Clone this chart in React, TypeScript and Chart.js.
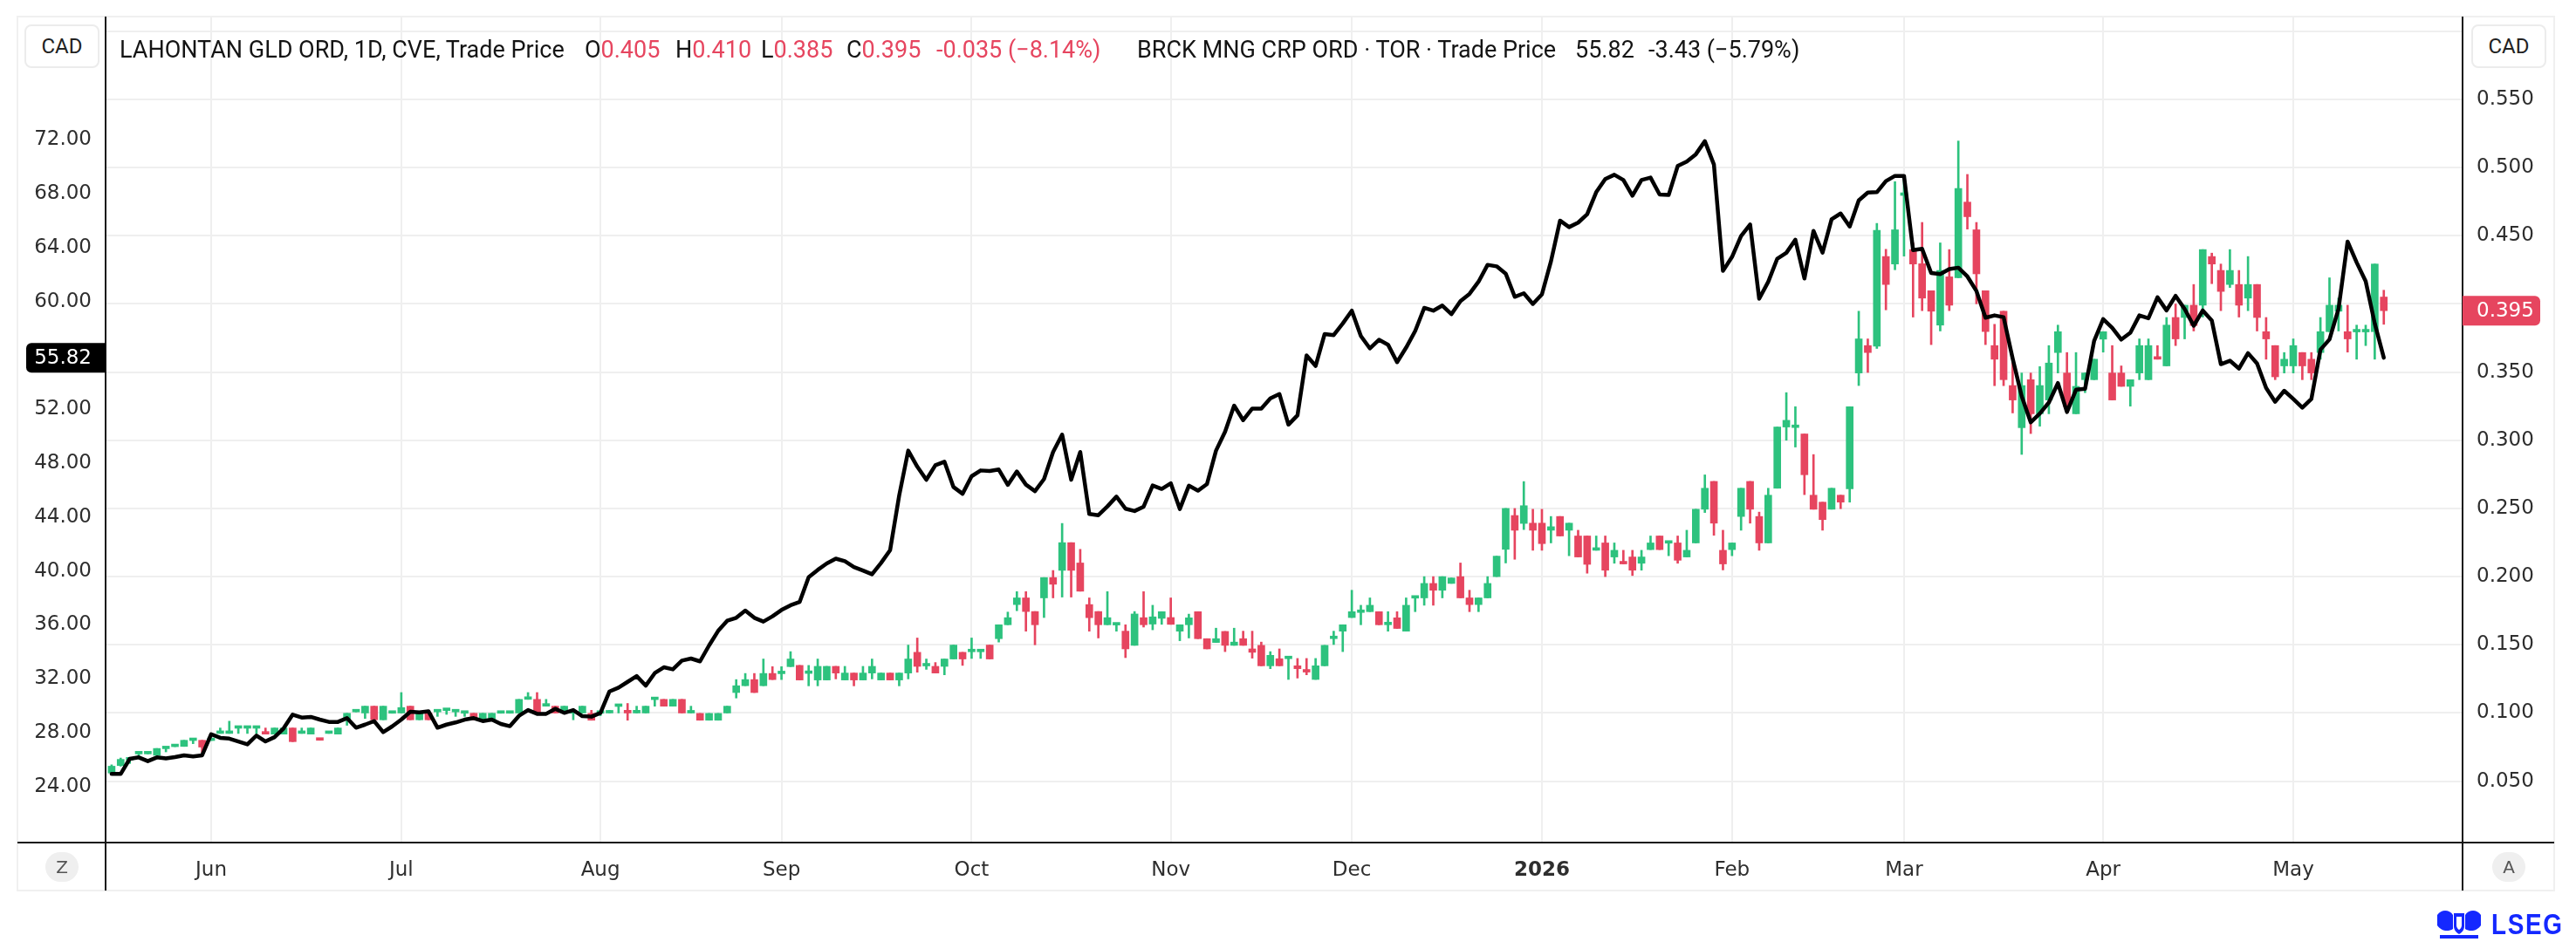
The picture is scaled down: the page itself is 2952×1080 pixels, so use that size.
import React, { useEffect, useRef } from "react";
import { Chart, registerables } from "chart.js";
Chart.register(...registerables);

// ---- x axis: trading-day index, month starts ----
const monthTickIdx = [11, 32, 54, 74, 95, 117, 137, 158, 179, 198, 220, 241];
const monthTickLabels = ["Jun", "Jul", "Aug", "Sep", "Oct", "Nov", "Dec", "2026", "Feb", "Mar", "Apr", "May"];
const boldTickLabel = "2026";
const leftTicks = [24, 28, 32, 36, 40, 44, 48, 52, 56, 60, 64, 68, 72];
const rightTicks = [0.05, 0.1, 0.15, 0.2, 0.25, 0.3, 0.35, 0.4, 0.45, 0.5, 0.55, 0.6];

// ---- LAHONTAN GLD ORD (CVE) daily candles, right axis ----
const lhnOpen = [
  0.056, 0.0615, 0.0655, 0.07, 0.07, 0.069, 0.0738, 0.0753, 0.0755, 0.0798,
  0.08, 0.0798, 0.085, 0.085, 0.0888, 0.0888, 0.0888, 0.0847, 0.0845, 0.0845,
  0.089, 0.085, 0.0845, 0.0802, 0.085, 0.0845, 0.095, 0.1008, 0.1, 0.105,
  0.095, 0.0998, 0.1, 0.105, 0.095, 0.1, 0.1008, 0.1018, 0.1008, 0.0998,
  0.0998, 0.095, 0.095, 0.0998, 0.0998, 0.1, 0.11, 0.11, 0.105, 0.105,
  0.1, 0.0998, 0.1, 0.0997, 0.0998, 0.1, 0.1048, 0.102, 0.1, 0.1,
  0.1098, 0.11, 0.105, 0.11, 0.1, 0.0997, 0.0947, 0.0947, 0.1, 0.115,
  0.12, 0.1245, 0.12, 0.129, 0.1288, 0.134, 0.1349, 0.129, 0.1242, 0.1242,
  0.1342, 0.1242, 0.1293, 0.1242, 0.1293, 0.1242, 0.1293, 0.1242, 0.1293, 0.1445,
  0.1345, 0.1342, 0.1342, 0.1396, 0.1445, 0.1449, 0.1449, 0.1498, 0.1545, 0.1647,
  0.1795, 0.1844, 0.1744, 0.1844, 0.1993, 0.2046, 0.2249, 0.21, 0.1795, 0.1744,
  0.1647, 0.1645, 0.16, 0.1496, 0.1699, 0.1652, 0.1694, 0.17, 0.16, 0.1647,
  0.1743, 0.1545, 0.1517, 0.1598, 0.1496, 0.1545, 0.147, 0.1496, 0.1346, 0.1398,
  0.1398, 0.1346, 0.1305, 0.1246, 0.1346, 0.1545, 0.16, 0.17, 0.1737, 0.1743,
  0.1743, 0.1647, 0.1698, 0.16, 0.1842, 0.1844, 0.195, 0.19, 0.195, 0.2,
  0.1844, 0.1795, 0.1844, 0.2, 0.22, 0.2448, 0.239, 0.2392, 0.2392, 0.234,
  0.2441, 0.234, 0.2298, 0.2298, 0.2193, 0.2247, 0.2144, 0.2098, 0.2144, 0.2098,
  0.2198, 0.2298, 0.2245, 0.2247, 0.2144, 0.2247, 0.2494, 0.2698, 0.2193, 0.2198,
  0.2441, 0.2698, 0.2441, 0.2247, 0.2648, 0.3097, 0.3093, 0.3046, 0.2597, 0.2546,
  0.2494, 0.2597, 0.2644, 0.3493, 0.3694, 0.369, 0.4347, 0.4292, 0.4795, 0.4398,
  0.4294, 0.4096, 0.3844, 0.4198, 0.4191, 0.4746, 0.4543, 0.4096, 0.3694, 0.3946,
  0.3401, 0.3092, 0.3444, 0.3194, 0.3295, 0.3643, 0.3493, 0.3194, 0.3444, 0.3444,
  0.3741, 0.3493, 0.3493, 0.3395, 0.3493, 0.3444, 0.3598, 0.3545, 0.39, 0.39,
  0.399, 0.399, 0.4347, 0.4245, 0.4142, 0.4142, 0.4042, 0.4142, 0.3796, 0.3694,
  0.3545, 0.3545, 0.3643, 0.3594, 0.3643, 0.3796, 0.3946, 0.3796, 0.3794, 0.3794,
  0.3796, 0.405,
];
const lhnHigh = [
  0.062, 0.067, 0.066, 0.0705, 0.0702, 0.074, 0.074, 0.0755, 0.08, 0.08,
  0.08, 0.08, 0.089, 0.094, 0.089, 0.089, 0.089, 0.089, 0.089, 0.089,
  0.089, 0.089, 0.089, 0.0802, 0.0852, 0.089, 0.0998, 0.101, 0.105, 0.105,
  0.105, 0.1, 0.115, 0.105, 0.0998, 0.1, 0.101, 0.102, 0.101, 0.1,
  0.0998, 0.0998, 0.0998, 0.1, 0.1, 0.11, 0.115, 0.115, 0.11, 0.105,
  0.105, 0.102, 0.105, 0.102, 0.1, 0.102, 0.105, 0.107, 0.105, 0.105,
  0.11, 0.11, 0.11, 0.11, 0.105, 0.0997, 0.0997, 0.0997, 0.105, 0.1245,
  0.129, 0.129, 0.1396, 0.134, 0.134, 0.145, 0.1349, 0.1349, 0.1396, 0.1342,
  0.1342, 0.1342, 0.1293, 0.1342, 0.1396, 0.1293, 0.1293, 0.1293, 0.1498, 0.155,
  0.1396, 0.137, 0.1396, 0.1498, 0.1445, 0.155, 0.145, 0.1498, 0.1647, 0.174,
  0.189, 0.189, 0.1744, 0.1993, 0.2045, 0.239, 0.2249, 0.22, 0.1844, 0.1744,
  0.189, 0.1647, 0.1647, 0.1744, 0.189, 0.179, 0.1743, 0.1844, 0.1647, 0.1725,
  0.1743, 0.1545, 0.1622, 0.1598, 0.1622, 0.16, 0.16, 0.152, 0.145, 0.147,
  0.14, 0.14, 0.14, 0.14, 0.1496, 0.16, 0.1647, 0.19, 0.179, 0.1844,
  0.1743, 0.1743, 0.1743, 0.1844, 0.1844, 0.2, 0.2, 0.2, 0.199, 0.21,
  0.19, 0.1844, 0.2, 0.215, 0.25, 0.25, 0.2697, 0.2494, 0.2494, 0.2441,
  0.2441, 0.2392, 0.234, 0.2298, 0.2298, 0.2298, 0.2247, 0.2193, 0.2193, 0.2193,
  0.2298, 0.2298, 0.2247, 0.2298, 0.234, 0.2494, 0.2746, 0.2698, 0.234, 0.2247,
  0.2648, 0.2698, 0.2473, 0.2648, 0.3097, 0.3349, 0.3246, 0.3046, 0.2895, 0.2546,
  0.2648, 0.2597, 0.3246, 0.3946, 0.3743, 0.459, 0.44, 0.4896, 0.4938, 0.4447,
  0.4597, 0.4096, 0.4447, 0.4398, 0.5194, 0.4949, 0.4597, 0.4096, 0.385, 0.3946,
  0.3594, 0.3493, 0.3493, 0.354, 0.3694, 0.3844, 0.3643, 0.3643, 0.3493, 0.3594,
  0.3796, 0.3694, 0.3545, 0.3444, 0.3743, 0.3743, 0.3694, 0.39, 0.3999, 0.399,
  0.4142, 0.4398, 0.4372, 0.4292, 0.4398, 0.4245, 0.4347, 0.4142, 0.39, 0.3694,
  0.3643, 0.3743, 0.3643, 0.3643, 0.39, 0.4191, 0.4042, 0.399, 0.3844, 0.3844,
  0.4292, 0.41,
];
const lhnLow = [
  0.055, 0.061, 0.063, 0.0675, 0.07, 0.069, 0.0715, 0.0753, 0.0755, 0.0775,
  0.071, 0.0798, 0.085, 0.085, 0.085, 0.085, 0.085, 0.0845, 0.0845, 0.0845,
  0.079, 0.085, 0.0845, 0.08, 0.085, 0.0845, 0.091, 0.1008, 0.096, 0.095,
  0.095, 0.0998, 0.1, 0.095, 0.095, 0.095, 0.0975, 0.099, 0.0975, 0.0975,
  0.095, 0.095, 0.095, 0.0998, 0.0998, 0.1, 0.11, 0.1, 0.105, 0.1,
  0.1, 0.095, 0.1, 0.0947, 0.098, 0.1, 0.1, 0.0947, 0.1, 0.1,
  0.105, 0.105, 0.105, 0.1, 0.1, 0.0947, 0.0947, 0.0947, 0.1, 0.111,
  0.12, 0.115, 0.12, 0.1245, 0.1245, 0.134, 0.1242, 0.1199, 0.1199, 0.1242,
  0.125, 0.1242, 0.1199, 0.1242, 0.125, 0.1242, 0.1242, 0.1199, 0.125, 0.1299,
  0.132, 0.1293, 0.128, 0.1396, 0.1349, 0.14, 0.14, 0.1396, 0.152, 0.1647,
  0.175, 0.16, 0.15, 0.17, 0.1844, 0.185, 0.185, 0.1893, 0.16, 0.155,
  0.1647, 0.16, 0.1406, 0.1496, 0.163, 0.161, 0.165, 0.165, 0.153, 0.155,
  0.1545, 0.147, 0.1517, 0.145, 0.1496, 0.1496, 0.1402, 0.1346, 0.1325, 0.1346,
  0.1246, 0.1256, 0.128, 0.1246, 0.1346, 0.1502, 0.145, 0.17, 0.1647, 0.1743,
  0.1647, 0.16, 0.162, 0.16, 0.1743, 0.179, 0.179, 0.1844, 0.195, 0.1844,
  0.1743, 0.1743, 0.1844, 0.2, 0.21, 0.2127, 0.2345, 0.2193, 0.2193, 0.2247,
  0.2298, 0.2153, 0.2144, 0.2025, 0.2193, 0.2, 0.2098, 0.2093, 0.2008, 0.2047,
  0.2198, 0.2198, 0.2153, 0.2098, 0.2144, 0.2247, 0.247, 0.2303, 0.2049, 0.2153,
  0.234, 0.2392, 0.2193, 0.2247, 0.2648, 0.3, 0.295, 0.2601, 0.2494, 0.234,
  0.2494, 0.2498, 0.2546, 0.3401, 0.3497, 0.3673, 0.3956, 0.425, 0.435, 0.3903,
  0.395, 0.3701, 0.3801, 0.395, 0.4191, 0.4548, 0.4, 0.3701, 0.34, 0.34,
  0.32, 0.2896, 0.3049, 0.3103, 0.3194, 0.3493, 0.3203, 0.3194, 0.3349, 0.3444,
  0.3646, 0.3295, 0.3395, 0.325, 0.3444, 0.3444, 0.3594, 0.3545, 0.3694, 0.3743,
  0.3801, 0.3903, 0.4148, 0.395, 0.412, 0.3903, 0.395, 0.3801, 0.3594, 0.3444,
  0.3493, 0.3493, 0.3444, 0.3444, 0.3594, 0.3796, 0.3801, 0.3646, 0.3594, 0.3694,
  0.3594, 0.385,
];
const lhnClose = [
  0.061, 0.066, 0.066, 0.0705, 0.0702, 0.074, 0.074, 0.0755, 0.08, 0.08,
  0.075, 0.08, 0.0852, 0.0852, 0.089, 0.089, 0.089, 0.0845, 0.089, 0.089,
  0.079, 0.0852, 0.089, 0.08, 0.0852, 0.089, 0.0998, 0.101, 0.105, 0.095,
  0.105, 0.1, 0.104, 0.095, 0.0998, 0.095, 0.101, 0.102, 0.101, 0.1,
  0.095, 0.0998, 0.0998, 0.1, 0.1, 0.11, 0.1102, 0.1, 0.1052, 0.1,
  0.105, 0.1, 0.105, 0.0947, 0.1, 0.1002, 0.105, 0.1, 0.102, 0.105,
  0.11, 0.105, 0.11, 0.1, 0.1002, 0.0947, 0.0997, 0.0997, 0.105, 0.12,
  0.1245, 0.115, 0.129, 0.1245, 0.129, 0.1396, 0.1242, 0.1297, 0.1342, 0.1342,
  0.1293, 0.1293, 0.1242, 0.1293, 0.1342, 0.1293, 0.1242, 0.1293, 0.1396, 0.1342,
  0.1349, 0.1293, 0.1396, 0.1498, 0.1396, 0.145, 0.145, 0.1396, 0.1647, 0.1699,
  0.1844, 0.1744, 0.1647, 0.1993, 0.1944, 0.2249, 0.2046, 0.1893, 0.1699, 0.1647,
  0.1699, 0.1647, 0.147, 0.1726, 0.1647, 0.1705, 0.1743, 0.165, 0.1647, 0.1698,
  0.1545, 0.147, 0.1545, 0.1496, 0.152, 0.1496, 0.1445, 0.1346, 0.1423, 0.1346,
  0.14, 0.1325, 0.13, 0.1346, 0.1496, 0.155, 0.1647, 0.1743, 0.1743, 0.179,
  0.1647, 0.1655, 0.162, 0.179, 0.1844, 0.195, 0.19, 0.2, 0.199, 0.1844,
  0.1795, 0.1844, 0.195, 0.215, 0.25, 0.234, 0.252, 0.234, 0.2242, 0.2366,
  0.2298, 0.2392, 0.2144, 0.209, 0.2198, 0.2047, 0.2193, 0.2093, 0.2047, 0.2144,
  0.2247, 0.2198, 0.2247, 0.212, 0.2193, 0.2494, 0.2648, 0.2392, 0.2093, 0.2247,
  0.2648, 0.2494, 0.2247, 0.2597, 0.3097, 0.3146, 0.3097, 0.2747, 0.2494, 0.2418,
  0.2648, 0.2546, 0.3246, 0.3743, 0.3643, 0.4539, 0.4142, 0.4543, 0.48, 0.4292,
  0.4042, 0.3946, 0.4245, 0.399, 0.4846, 0.4639, 0.422, 0.3797, 0.3594, 0.3444,
  0.3295, 0.3401, 0.3194, 0.3401, 0.3566, 0.3796, 0.3246, 0.3395, 0.3493, 0.3594,
  0.3796, 0.3295, 0.3395, 0.3444, 0.3694, 0.3694, 0.3594, 0.3844, 0.3743, 0.399,
  0.3841, 0.4398, 0.4292, 0.4091, 0.4245, 0.399, 0.4142, 0.39, 0.3743, 0.3465,
  0.3594, 0.3694, 0.3545, 0.3493, 0.3796, 0.399, 0.399, 0.3743, 0.3796, 0.3796,
  0.4292, 0.395,
];

// ---- BRCK MNG CRP ORD (TOR) trade price, left axis ----
const brckClose = [
  24.95, 24.95, 26.07, 26.18, 25.9, 26.18, 26.1, 26.2, 26.33, 26.25,
  26.33, 27.9, 27.63, 27.57, 27.36, 27.14, 27.8, 27.36, 27.68, 28.33,
  29.35, 29.13, 29.18, 28.98, 28.81, 28.81, 29.09, 28.38, 28.61, 28.87,
  28.05, 28.48, 28.98, 29.56, 29.52, 29.6, 28.38, 28.61, 28.77, 28.98,
  29.09, 28.87, 28.98, 28.66, 28.49, 29.26, 29.69, 29.41, 29.41, 29.78,
  29.48, 29.69, 29.24, 29.2, 29.48, 31.07, 31.35, 31.78, 32.21, 31.5,
  32.43, 32.86, 32.71, 33.36, 33.51, 33.3, 34.48, 35.56, 36.31, 36.53,
  37.07, 36.53, 36.25, 36.64, 37.11, 37.46, 37.7, 39.54, 40.08, 40.56,
  40.92, 40.73, 40.3, 40.04, 39.76, 40.6, 41.55, 45.6, 48.93, 47.74,
  46.77, 47.85, 48.11, 46.23, 45.73, 47.03, 47.46, 47.42, 47.53, 46.39,
  47.38, 46.41, 45.92, 46.82, 48.83, 50.12, 46.77, 48.83, 44.23, 44.14,
  44.79, 45.52, 44.62, 44.45, 44.77, 46.35, 46.09, 46.51, 44.6, 46.33,
  45.96, 46.45, 48.93, 50.33, 52.27, 51.19, 52.05, 52.05, 52.8, 53.13,
  50.86, 51.55, 55.99, 55.21, 57.58, 57.5, 58.36, 59.31, 57.43, 56.51,
  57.15, 56.79, 55.49, 56.57, 57.8, 59.52, 59.31, 59.69, 59.05, 60.02,
  60.56, 61.46, 62.71, 62.6, 62.06, 60.34, 60.6, 59.81, 60.52, 62.97,
  65.99, 65.51, 65.84, 66.46, 68.1, 69.07, 69.39, 69.0, 67.84, 69.0,
  69.18, 67.93, 67.89, 70.04, 70.37, 70.91, 71.88, 70.15, 62.26, 63.3,
  64.85, 65.71, 60.2, 61.45, 63.17, 63.6, 64.57, 61.7, 65.23, 63.61,
  66.09, 66.52, 65.55, 67.49, 68.07, 68.1, 68.92, 69.31, 69.31, 63.8,
  63.9, 62.11, 62.03, 62.4, 62.5, 61.85, 60.77, 58.79, 58.96, 58.83,
  55.77, 52.97, 51.03, 51.68, 52.5, 53.94, 51.79, 53.45, 53.51, 57.07,
  58.68, 58.04, 57.17, 57.67, 58.96, 58.75, 60.3, 59.33, 60.41, 59.44,
  58.19, 59.33, 58.58, 55.34, 55.6, 55.02, 56.16, 55.39, 53.58, 52.55,
  53.37, 52.76, 52.12, 52.76, 56.42, 57.18, 59.44, 64.44, 62.89, 61.49,
  58.36, 55.82,
];

const GREEN = "#2dc27e";
const RED = "#e6455f";
const GRID = "#efefef";
const TICK = "#2e2e2e";
const TICK_FONT = "DejaVu Sans";
const HEAD_FONT = 'Roboto, "Liberation Sans", Arial, sans-serif';
const FRAME = { left: 20, top: 19, right: 2927, bottom: 1021 };

export default function App() {
  const ref = useRef<HTMLCanvasElement>(null);

  useEffect(() => {
    if (!ref.current) return;
    const idx = lhnClose.map((_, i) => i);
    const colors = idx.map((i) => (lhnClose[i] >= lhnOpen[i] ? GREEN : RED));
    const lastBrck = brckClose[brckClose.length - 1];
    const lastLhn = lhnClose[lhnClose.length - 1];
    const lastLhnColor = colors[colors.length - 1];

    const overlay = {
      id: "overlay",
      afterDraw(chart: any) {
        const { ctx, chartArea: a, scales } = chart;
        ctx.save();
        ctx.strokeStyle = "#141414";
        ctx.lineWidth = 2;
        ctx.beginPath();
        ctx.moveTo(a.left, FRAME.top);
        ctx.lineTo(a.left, FRAME.bottom);
        ctx.moveTo(a.right, FRAME.top);
        ctx.lineTo(a.right, FRAME.bottom);
        ctx.moveTo(FRAME.left, a.bottom);
        ctx.lineTo(FRAME.right, a.bottom);
        ctx.stroke();

        ctx.font = `23px "${TICK_FONT}"`;
        ctx.textBaseline = "middle";
        // left badge (last BRCK price)
        const yl = scales.yL.getPixelForValue(lastBrck);
        ctx.fillStyle = "#000";
        ctx.beginPath();
        ctx.roundRect(30, yl - 17, a.left - 30, 34, [6, 0, 0, 6]);
        ctx.fill();
        ctx.fillStyle = "#fff";
        ctx.textAlign = "right";
        ctx.fillText(lastBrck.toFixed(2), a.left - 16, yl + 1);
        // right badge (last LHN close)
        const yr = scales.yR.getPixelForValue(lastLhn);
        ctx.fillStyle = lastLhnColor;
        ctx.beginPath();
        ctx.roundRect(a.right, yr - 17, 89, 34, [0, 6, 6, 0]);
        ctx.fill();
        ctx.fillStyle = "#fff";
        ctx.textAlign = "left";
        ctx.fillText(lastLhn.toFixed(3), a.right + 16, yr + 1);
        ctx.restore();
      },
    };

    const zeroPad = (s: any) => {
      s.paddingTop = 0;
      s.paddingBottom = 0;
      s.paddingLeft = 0;
      s.paddingRight = 0;
    };

    const chart = new Chart(ref.current, {
      type: "bar",
      data: {
        datasets: [
          {
            type: "line",
            data: idx.map((i) => ({ x: i, y: brckClose[i] })),
            yAxisID: "yL",
            borderColor: "#000",
            borderWidth: 4.5,
            pointRadius: 0,
            tension: 0,
            borderJoinStyle: "round",
            borderCapStyle: "round",
            order: 0,
          } as any,
          {
            type: "bar",
            data: idx.map((i) => ({ x: i, y: [lhnOpen[i], lhnClose[i]] })),
            yAxisID: "yR",
            backgroundColor: colors,
            barThickness: 8,
            minBarLength: 3,
            grouped: false,
            borderWidth: 0,
            borderSkipped: false,
            order: 1,
          } as any,
          {
            type: "bar",
            data: idx.map((i) => ({ x: i, y: [lhnLow[i], lhnHigh[i]] })),
            yAxisID: "yR",
            backgroundColor: colors,
            barThickness: 2,
            grouped: false,
            borderWidth: 0,
            borderSkipped: false,
            order: 2,
          } as any,
        ],
      },
      options: {
        animation: false,
        responsive: false,
        events: [],
        layout: { padding: { left: 20, right: 25, top: 20, bottom: 59 } },
        plugins: { legend: { display: false }, tooltip: { enabled: false } },
        scales: {
          x: {
            type: "linear",
            min: -0.665,
            max: 259.7,
            offset: false,
            bounds: "data",
            afterBuildTicks: (s: any) => {
              s.ticks = monthTickIdx.map((v) => ({ value: v }));
            },
            afterFit: (s: any) => {
              s.height = 55;
              zeroPad(s);
            },
            ticks: {
              autoSkip: false,
              maxRotation: 0,
              padding: 18,
              color: TICK,
              font: (c: any) => {
                const k = c.tick ? monthTickIdx.indexOf(c.tick.value) : -1;
                return {
                  family: TICK_FONT,
                  size: 23,
                  weight: k >= 0 && monthTickLabels[k] === boldTickLabel ? "bold" : "normal",
                };
              },
              callback: (v: any) => {
                const k = monthTickIdx.indexOf(Number(v));
                return k >= 0 ? monthTickLabels[k] : "";
              },
            },
            grid: { color: GRID, lineWidth: 2, drawTicks: false, tickLength: 0, offset: false },
            border: { display: false },
          },
          yL: {
            type: "linear",
            position: "left",
            min: 19.86,
            max: 81.06,
            bounds: "data",
            afterBuildTicks: (s: any) => {
              s.ticks = leftTicks.map((v) => ({ value: v }));
            },
            afterFit: (s: any) => {
              s.width = 101;
              zeroPad(s);
            },
            ticks: {
              padding: 16,
              color: TICK,
              font: { family: TICK_FONT, size: 23 },
              callback: (v: any) => (Math.abs(Number(v) - lastBrck) < 1.3 ? "" : Number(v).toFixed(2)),
            },
            grid: { display: false, drawTicks: false, tickLength: 0 },
            border: { display: false },
          },
          yR: {
            type: "linear",
            position: "right",
            min: 0.005,
            max: 0.61,
            bounds: "data",
            afterBuildTicks: (s: any) => {
              s.ticks = rightTicks.map((v) => ({ value: v }));
            },
            afterFit: (s: any) => {
              s.width = 105;
              zeroPad(s);
            },
            ticks: {
              padding: 16,
              color: TICK,
              font: { family: TICK_FONT, size: 23 },
              callback: (v: any) =>
                Number(v) >= 0.6 || Math.abs(Number(v) - lastLhn) < 0.012 ? "" : Number(v).toFixed(3),
            },
            grid: { color: GRID, lineWidth: 2, drawTicks: false, tickLength: 0 },
            border: { display: false },
          },
        },
      } as any,
      plugins: [overlay],
    });
    return () => chart.destroy();
  }, []);

  const hdr: React.CSSProperties = {
    position: "absolute",
    top: 42,
    lineHeight: "30px",
    fontFamily: HEAD_FONT,
    fontSize: 27,
    color: "#141414",
    whiteSpace: "nowrap",
  };
  const red: React.CSSProperties = { color: RED };
  const box: React.CSSProperties = {
    position: "absolute",
    top: 28,
    width: 86,
    height: 50,
    boxSizing: "border-box",
    border: "2px solid #ececec",
    borderRadius: 8,
    background: "#fff",
    display: "flex",
    alignItems: "center",
    justifyContent: "center",
    fontFamily: HEAD_FONT,
    fontSize: 24,
    color: "#222",
  };
  const pill: React.CSSProperties = {
    position: "absolute",
    top: 977,
    width: 38,
    height: 34,
    borderRadius: 17,
    background: "#efefef",
    display: "flex",
    alignItems: "center",
    justifyContent: "center",
    fontFamily: `"${TICK_FONT}", sans-serif`,
    fontSize: 20,
    color: "#555",
  };

  return (
    <div style={{ position: "absolute", left: 0, top: 0, width: 2952, height: 1080, background: "#fff", overflow: "hidden" }}>
      <div
        style={{
          position: "absolute",
          left: FRAME.left - 1,
          top: FRAME.top - 1,
          width: FRAME.right - FRAME.left + 2,
          height: FRAME.bottom - FRAME.top + 2,
          boxSizing: "border-box",
          border: "2px solid #f0f0f0",
        }}
      />
      <canvas ref={ref} width={2952} height={1080} style={{ position: "absolute", left: 0, top: 0, width: 2952, height: 1080 }} />
      <div style={{ ...box, left: 28 }}>CAD</div>
      <div style={{ ...box, left: 2832 }}>CAD</div>
      <div style={{ ...pill, left: 52 }}>Z</div>
      <div style={{ ...pill, left: 2856 }}>A</div>

      <span style={{ ...hdr, left: 137 }}>LAHONTAN GLD ORD, 1D, CVE, Trade Price</span>
      <span style={{ ...hdr, left: 670 }}>O<span style={red}>0.405</span></span>
      <span style={{ ...hdr, left: 774 }}>H<span style={red}>0.410</span></span>
      <span style={{ ...hdr, left: 872 }}>L<span style={red}>0.385</span></span>
      <span style={{ ...hdr, left: 970 }}>C<span style={red}>0.395</span></span>
      <span style={{ ...hdr, ...red, left: 1073 }}>-0.035 (−8.14%)</span>
      <span style={{ ...hdr, left: 1303 }}>BRCK MNG CRP ORD · TOR · Trade Price</span>
      <span style={{ ...hdr, left: 1805 }}>55.82</span>
      <span style={{ ...hdr, left: 1889 }}>-3.43 (−5.79%)</span>

      <svg style={{ position: "absolute", left: 2790, top: 1040 }} width={56} height={38} viewBox="0 0 56 38">
        <g fill="#1428ff">
          <path d="M3 9 C8 2 17 3 21 9 L21 25 C15 29 7 27 3 21 Z" />
          <path d="M53 9 C48 2 39 3 35 9 L35 25 C41 29 49 27 53 21 Z" />
          <path d="M22 7 L34 7 L34 22 C34 28 28 31 28 31 C28 31 22 28 22 22 Z" />
          <rect x="6" y="32" width="44" height="4" />
        </g>
        <path d="M25 11 L31 11 L31 21 C31 24 28 26 28 26 C28 26 25 24 25 21 Z" fill="#fff" />
      </svg>
      <div
        style={{
          position: "absolute",
          left: 2855,
          top: 1040,
          lineHeight: "38px",
          fontFamily: '"Liberation Sans", Arial, sans-serif',
          fontWeight: "bold",
          fontSize: 34,
          letterSpacing: 2,
          color: "#1428ff",
          transform: "scaleX(0.82)",
          transformOrigin: "left center",
          whiteSpace: "nowrap",
        }}
      >
        LSEG
      </div>
    </div>
  );
}
